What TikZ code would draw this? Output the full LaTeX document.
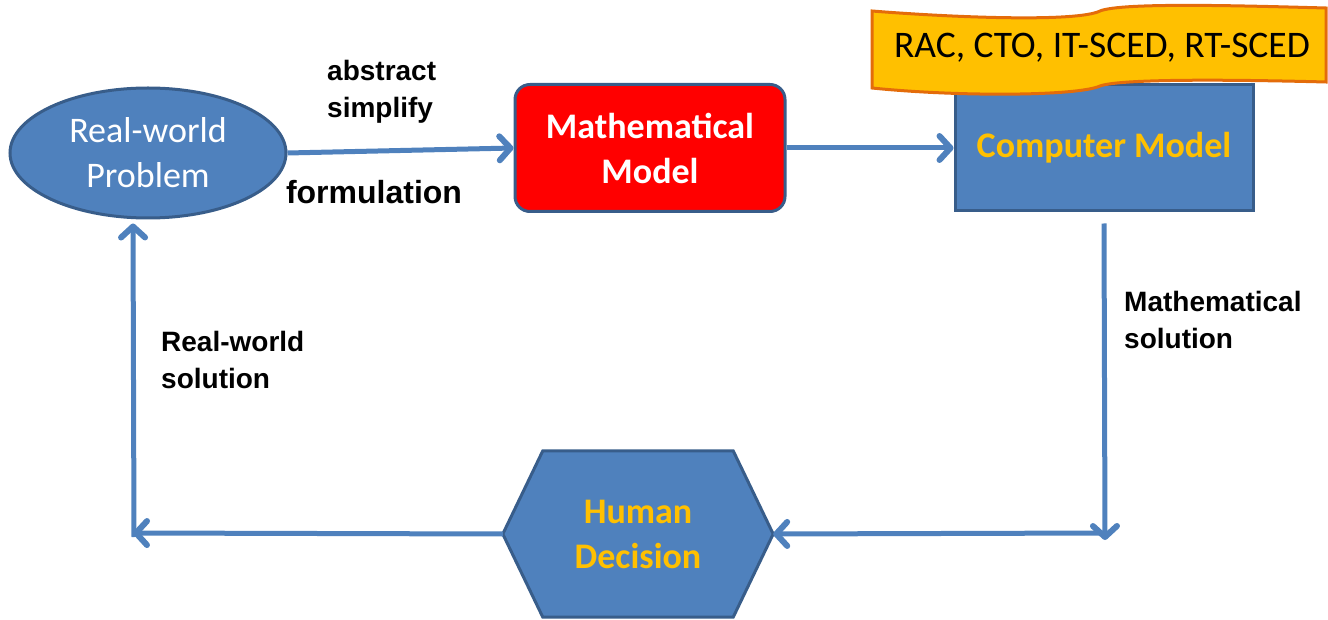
\documentclass[tikz,border=0pt]{standalone}
\usepackage{fontspec}
\setmainfont{Carlito}
\newfontfamily\arialfont{Liberation Sans}
\usetikzlibrary{arrows.meta,shapes.geometric,backgrounds}

\definecolor{boxblue}{HTML}{4F81BD}
\definecolor{edgeblue}{HTML}{385D8A}
\definecolor{gold}{HTML}{FFC000}
\definecolor{bannerline}{HTML}{E46C0A}

\tikzset{
  flow/.style={line width=5pt, draw=boxblue,
    -{Straight Barb[length=11pt,width=24pt,round,line width=6pt]}},
  bigtext/.style={font=\fontsize{36}{45}\selectfont, align=center, inner sep=0pt},
  lbl/.style={font=\arialfont\bfseries\fontsize{28}{37}\selectfont, align=left, inner sep=0pt},
}

\begin{document}
\begin{tikzpicture}[x=1pt, y=-1pt]
    \useasboundingbox (0,0) rectangle (1328,620);

    % Real-world problem
    \node[bigtext, ellipse, fill=boxblue, draw=edgeblue, line width=3pt, text=white,
          minimum width=276pt, minimum height=130pt] (prob) at (148,153) {Real-world\\Problem};

    % Mathematical model
    \node[bigtext, rectangle, rounded corners=15pt, fill=red, draw=edgeblue, line width=3pt,
          text=white, font=\bfseries\fontsize{36}{45}\selectfont,
          minimum width=270pt, minimum height=127pt] (math) at (650,148) {Mathematical\\Model};

    % Computer model
    \node[bigtext, rectangle, fill=boxblue, draw=edgeblue, line width=3pt, text=gold,
          font=\bfseries\fontsize{36}{45}\selectfont,
          minimum width=298pt, minimum height=126pt] (comp) at (1104,148) {Computer Model};

    % Banner over the computer model
    \draw[fill=gold, draw=bannerline, line width=3pt]
        (872,11) .. controls (960,18) and (1078,22) .. (1100,11)
        .. controls (1122,2) and (1250,6) .. (1326,8)
        -- (1326,82) .. controls (1250,80) and (1122,78) .. (1100,86)
        .. controls (1078,96) and (960,97) .. (872,88) -- cycle;
    \node[font=\fontsize{37.5}{45}\selectfont, inner sep=0pt] (tags) at (1102,48) {RAC, CTO, IT-SCED, RT-SCED};

    % Human decision
    \node[bigtext, text=gold, font=\bfseries\fontsize{36}{45}\selectfont,
          minimum width=270pt, minimum height=166pt] (hd) at (638,534) {Human\\Decision};
    \begin{scope}[on background layer]
        \draw[fill=boxblue, draw=edgeblue, line width=3pt]
            (hd.west) -- ([xshift=40pt]hd.north west) -- ([xshift=-40pt]hd.north east)
            -- (hd.east) -- ([xshift=-40pt]hd.south east) -- ([xshift=40pt]hd.south west) -- cycle;
    \end{scope}

    % Corners of the loop
    \coordinate (cr) at (1105,540);
    \coordinate (cl) at (133,533);

    % Connectors
    \draw[flow] (prob.east) -- (math.west);
    \draw[flow] (math.east) -- (comp.west);
    \draw[flow] ([yshift=-11pt]comp.south) -- (cr);
    \draw[flow] ([xshift=2.5pt,yshift=7pt]cr) -- (hd.east);
    \draw[flow] (hd.west) -- (cl);
    \draw[flow] ([xshift=1pt,yshift=-4pt]cl) -- ([yshift=-4pt]prob.south -| cl);

    % Labels
    \node[lbl, anchor=west] (abs) at (327,92) {abstract\\simplify};
    \node[lbl, font=\arialfont\bfseries\fontsize{32}{38}\selectfont] (form) at (374,192) {formulation};
    \node[lbl, anchor=west] (rws) at (161,360) {Real-world\\solution};
    \node[lbl, anchor=west] (mts) at (1124,320) {Mathematical\\solution};
\end{tikzpicture}
\end{document}
